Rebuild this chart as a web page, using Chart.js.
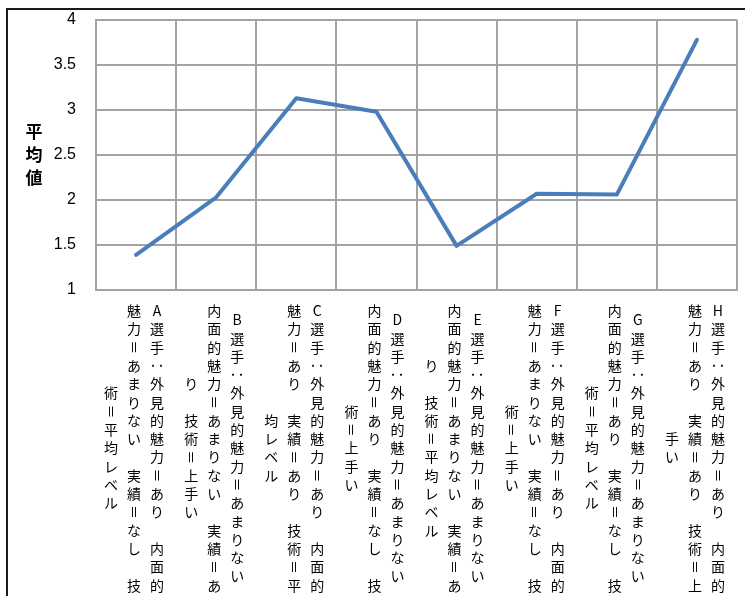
<!DOCTYPE html>
<html>
<head>
<meta charset="utf-8">
<script src="https://cdn.jsdelivr.net/npm/chart.js@4"></script>
<style>
  html, body { margin: 0; padding: 0; background: #fff; }
  #wrap { position: relative; width: 745px; height: 596px; overflow: hidden; }
  #c { position: absolute; left: 0; top: 0; }
  #frame { position: absolute; left: 6px; top: 8px; width: 800px; height: 700px;
           border-left: 2px solid #1a1a1a; border-top: 2px solid #1a1a1a; pointer-events: none; }
</style>
</head>
<body>
<div id="wrap">
  <canvas id="c" width="745" height="596"></canvas>
  <div id="frame"></div>
</div>
<script>
// Category labels, already wrapped into vertical columns (right-to-left)
const categories = [
  ["A選手：外見的魅力＝あり　内面的", "魅力＝あまりない　実績＝なし　技", "術＝平均レベル"],
  ["B選手：外見的魅力＝あまりない", "内面的魅力＝あまりない　実績＝あ", "り　技術＝上手い"],
  ["C選手：外見的魅力＝あり　内面的", "魅力＝あり　実績＝あり　技術＝平", "均レベル"],
  ["D選手：外見的魅力＝あまりない", "内面的魅力＝あり　実績＝なし　技", "術＝上手い"],
  ["E選手：外見的魅力＝あまりない", "内面的魅力＝あまりない　実績＝あ", "り　技術＝平均レベル"],
  ["F選手：外見的魅力＝あり　内面的", "魅力＝あまりない　実績＝なし　技", "術＝上手い"],
  ["G選手：外見的魅力＝あまりない", "内面的魅力＝あり　実績＝なし　技", "術＝平均レベル"],
  ["H選手：外見的魅力＝あり　内面的", "魅力＝あり　実績＝あり　技術＝上", "手い"]
];
const averages = [1.39, 2.03, 3.13, 2.98, 1.49, 2.07, 2.06, 3.78];
const yTitle = ["平", "均", "値"];
const yMin = 1, yMax = 4, yStep = 0.5;

const gridColor = '#a3a3a3';
const CJK = '"Noto Sans CJK JP", "Noto Sans", sans-serif';

const verticalLabels = {
  id: 'verticalLabels',
  afterDraw(chart) {
    const ctx = chart.ctx;
    const xs = chart.scales.x;
    const pitch = 18.3, colGap = 23, centerY = 448;
    ctx.save();
    ctx.fillStyle = '#000';
    ctx.font = '14px ' + CJK;
    ctx.textAlign = 'center';
    ctx.textBaseline = 'middle';
    chart.data.labels.forEach((cols, i) => {
      const cx = xs.getPixelForValue(i) - 2;
      const n = cols.length;
      cols.forEach((col, j) => {
        const x = cx + ((n - 1) / 2 - j) * colGap;
        const chars = Array.from(col);
        const y0 = centerY - (chars.length - 1) / 2 * pitch;
        chars.forEach((ch, k) => {
          const y = y0 + k * pitch;
          if (ch === '　') return;
          if (ch === '＝' || ch === '：' || ch === 'ー') {
            ctx.save();
            ctx.translate(x, y);
            ctx.rotate(Math.PI / 2);
            ctx.fillText(ch, 0, 0);
            ctx.restore();
          } else {
            ctx.fillText(ch, x, y);
          }
        });
      });
    });
    // y-axis title, stacked
    const ys = chart.scales.y;
    ctx.font = 'bold 17px ' + CJK;
    const tcy = ys.getPixelForValue(2.5);
    yTitle.forEach((ch, k) => {
      ctx.fillText(ch, 34, tcy + (k - (yTitle.length - 1) / 2) * 23);
    });
    ctx.restore();
  }
};

new Chart(document.getElementById('c'), {
  type: 'line',
  data: {
    labels: categories,
    datasets: [{
      data: averages,
      borderColor: '#4a7ebb',
      borderWidth: 4,
      pointRadius: 0,
      pointHoverRadius: 0,
      tension: 0,
      borderCapStyle: 'round',
      borderJoinStyle: 'round',
      fill: false
    }]
  },
  options: {
    responsive: false,
    animation: false,
    events: [],
    layout: { padding: { top: 20, right: 8, bottom: 0, left: 0 } },
    plugins: { legend: { display: false }, tooltip: { enabled: false } },
    scales: {
      x: {
        type: 'category',
        offset: true,
        grid: { offset: true, color: gridColor, lineWidth: 2, drawTicks: false },
        border: { color: gridColor, width: 2 },
        ticks: { display: false },
        afterFit(s) { s.height = 306; }
      },
      y: {
        min: yMin,
        max: yMax,
        ticks: {
          stepSize: yStep,
          padding: 20,
          color: '#000',
          font: { family: '"Liberation Sans", Arial, sans-serif', size: 16 },
          callback: (v) => String(Math.round(v * 10) / 10)
        },
        grid: { color: gridColor, lineWidth: 2, drawTicks: false },
        border: { color: gridColor, width: 2 },
        afterFit(s) { s.width = 96; s.paddingTop = 8; s.paddingBottom = 8; }
      }
    }
  },
  plugins: [verticalLabels]
});
</script>
</body>
</html>
